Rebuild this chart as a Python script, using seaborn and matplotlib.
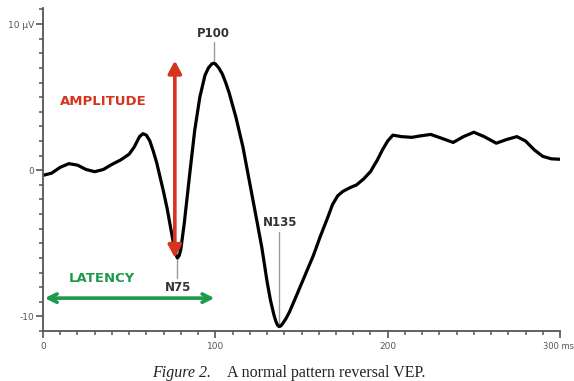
import matplotlib
matplotlib.use("Agg")
import matplotlib.pyplot as plt
from matplotlib.ticker import MultipleLocator
from matplotlib.transforms import ScaledTranslation
import seaborn as sns
import pandas as pd

# ---- data (time in ms, amplitude in µV) ----
time_ms = [0, 5, 10, 15, 20, 25, 30, 35, 40, 45, 50, 53, 56, 58, 60, 62, 64, 66,
           68, 70, 72, 74, 76, 77, 78, 79, 80, 82, 85, 88, 91, 94, 96, 98, 99, 100,
           102, 104, 106, 108, 112, 116, 120, 124, 127, 130, 132, 134, 135, 136,
           137, 138, 139, 141, 143, 147, 152, 157, 161, 165, 168, 171, 174, 178,
           182, 186, 190, 194, 197, 200, 203, 208, 214, 219, 225, 231, 238, 244,
           250, 256, 263, 269, 275, 280, 285, 290, 295, 300]
amplitude_uv = [-0.35, -0.2, 0.2, 0.45, 0.35, 0.05, -0.1, 0.05, 0.4, 0.7, 1.1,
                1.6, 2.3, 2.5, 2.4, 2.0, 1.3, 0.5, -0.5, -1.5, -2.6, -3.9, -5.2,
                -5.75, -6.0, -5.85, -5.4, -3.6, -0.4, 2.7, 5.0, 6.5, 7.0, 7.28, 7.32,
                7.28, 7.0, 6.6, 6.0, 5.3, 3.6, 1.6, -0.9, -3.4, -5.3, -7.6, -8.9,
                -9.9, -10.3, -10.58, -10.7, -10.65, -10.5, -10.15, -9.7, -8.6, -7.2,
                -5.8, -4.5, -3.3, -2.35, -1.75, -1.45, -1.2, -1.0, -0.6, -0.1, 0.7,
                1.4, 2.0, 2.4, 2.3, 2.25, 2.35, 2.45, 2.2, 1.9, 2.3, 2.6, 2.3, 1.85,
                2.1, 2.3, 2.0, 1.4, 0.95, 0.78, 0.75]

peak_names = ["N75", "P100", "N135"]
peak_times = [78, 99, 137]
peak_values = [-6.0, 7.32, -10.7]

x_ticks = [0, 100, 200, 300]
x_tick_labels = ["0", "100", "200", "300 ms"]
y_ticks = [-10, 0, 10]
y_tick_labels = ["-10", "0", "10 µV"]

caption_italic = "Figure 2."
caption_text = "A normal pattern reversal VEP."

df = pd.DataFrame({"t": time_ms, "v": amplitude_uv})

sns.set_style("white")
fig = plt.figure(figsize=(5.74, 3.81), dpi=100)
ax = fig.add_axes([43 / 574, 1 - 331 / 381, (560 - 43) / 574, (331 - 8) / 381])

sns.lineplot(data=df, x="t", y="v", ax=ax, color="black", linewidth=2.3,
             estimator=None, sort=False)

ax.set_xlim(0, 300)
ax.set_ylim(-11.0, 11.1)
ax.set_xlabel("")
ax.set_ylabel("")
for s in ["top", "right"]:
    ax.spines[s].set_visible(False)
for s in ["left", "bottom"]:
    ax.spines[s].set_color("#555555")
    ax.spines[s].set_linewidth(1.3)

ax.set_xticks(x_ticks)
ax.set_xticklabels(x_tick_labels)
ax.set_yticks(y_ticks)
ax.set_yticklabels(y_tick_labels)
ax.xaxis.set_minor_locator(MultipleLocator(10))
ax.yaxis.set_minor_locator(MultipleLocator(1))
ax.tick_params(axis="both", which="both", bottom=True, left=True)
ax.tick_params(axis="both", which="major", direction="out", length=5, width=1.2,
               color="#555555", labelsize=6.5, labelcolor="#555555")
ax.tick_params(axis="both", which="minor", direction="out", length=3, width=1.1,
               color="#555555")
ax.tick_params(axis="x", which="major", pad=3)
ax.tick_params(axis="y", which="major", pad=1.5)
last = ax.get_xticklabels()[-1]
last.set_horizontalalignment("left")
last.set_fontsize(6.0)
last.set_transform(last.get_transform() + ScaledTranslation(-17 / 100, 0, fig.dpi_scale_trans))

# peak markers and labels
label_color = "#333333"
line_color = "#9a9a9a"
# P100
ax.plot([99, 99], [peak_values[1], 8.75], color=line_color, lw=1.0, zorder=1)
ax.text(99, 8.9, peak_names[1], ha="center", va="bottom", fontsize=8.5,
        fontweight="bold", color=label_color)
# N75
ax.plot([78, 78], [peak_values[0], -7.4], color=line_color, lw=1.0, zorder=1)
ax.text(78.5, -7.55, peak_names[0], ha="center", va="top", fontsize=8.5,
        fontweight="bold", color=label_color)
# N135
ax.plot([137, 137], [peak_values[2], -4.25], color=line_color, lw=1.0, zorder=1)
ax.text(137.5, -4.0, peak_names[2], ha="center", va="bottom", fontsize=8.5,
        fontweight="bold", color=label_color)

# amplitude arrow
red = "#d6341c"
ax.annotate("", xy=(76.5, 7.5), xytext=(76.5, -6.0),
            arrowprops=dict(arrowstyle="<|-|>,head_length=0.75,head_width=0.4",
                            color=red, lw=2.6, shrinkA=0, shrinkB=0))
ax.text(35, 4.7, "AMPLITUDE", ha="center", va="center", fontsize=9.5,
        fontweight="bold", color=red)

# latency arrow
green = "#1e9a4c"
ax.annotate("", xy=(1, -8.75), xytext=(99.5, -8.75),
            arrowprops=dict(arrowstyle="<->,head_length=0.6,head_width=0.3",
                            color=green, lw=2.6, shrinkA=0, shrinkB=0))
ax.text(34, -7.4, "LATENCY", ha="center", va="center", fontsize=9.5,
        fontweight="bold", color=green)

# caption
fig.text(152 / 574, 1 - 373 / 381, caption_italic, fontsize=11.5,
         family="Liberation Serif", style="italic", color="#222222",
         ha="left", va="center")
fig.text(227 / 574, 1 - 373 / 381, caption_text, fontsize=11.5,
         family="Liberation Serif", color="#222222", ha="left", va="center")

fig.savefig("out.png", dpi=100)
